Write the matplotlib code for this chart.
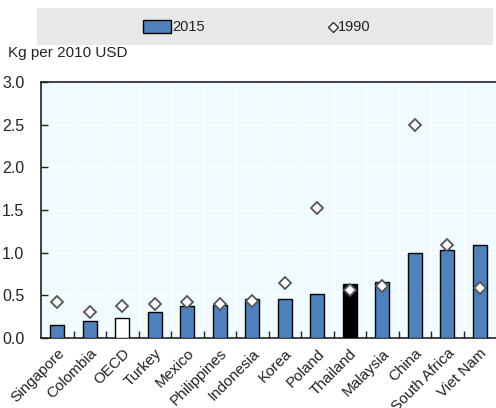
import matplotlib.pyplot as plt
from matplotlib.patches import Rectangle
from matplotlib.lines import Line2D
import numpy as np
plt.close('all')

plt.rcParams['font.family'] = ['Liberation Sans', 'DejaVu Sans']

# Data
countries = ['Singapore', 'Colombia', 'OECD', 'Turkey', 'Mexico', 'Philippines', 'Indonesia',
             'Korea', 'Poland', 'Thailand', 'Malaysia', 'China', 'South Africa', 'Viet Nam']
val_2015 = [0.15, 0.20, 0.24, 0.30, 0.38, 0.39, 0.46, 0.46, 0.51, 0.63, 0.66, 1.00, 1.03, 1.09]
val_1990 = [0.42, 0.30, 0.37, 0.40, 0.42, 0.40, 0.43, 0.64, 1.52, 0.56, 0.61, 2.50, 1.09, 0.59]

blue = '#4F81BD'
colors = [blue] * len(countries)
colors[countries.index('OECD')] = 'white'
colors[countries.index('Thailand')] = 'black'

fig = plt.figure(figsize=(4.96, 4.08), dpi=100)
ax = fig.add_axes([41 / 496, 1 - 338 / 408, 1 - 41 / 496, (338 - 82) / 408])
ax.set_facecolor('#EFFBFF')

x = np.arange(len(countries))
ax.bar(x, val_2015, width=0.42, color=colors, edgecolor='black', linewidth=1.0, zorder=3)
ax.plot(x, val_1990, linestyle='none', marker='D', markersize=6.5,
        markerfacecolor='white', markeredgecolor='#555555', markeredgewidth=1.3, zorder=4)

ax.set_xlim(-0.5, len(countries) - 0.5)
ax.set_ylim(0, 3.0)
ax.set_yticks(np.arange(0, 3.01, 0.5))
ax.set_yticklabels(['%.1f' % v for v in np.arange(0, 3.01, 0.5)])
ax.set_xticks(x)
ax.set_xticklabels(countries, rotation=45, ha='right', rotation_mode='anchor')
ax.set_xticks(x[:-1] + 0.5, minor=True)

ax.tick_params(axis='y', direction='in', length=5, width=1, pad=12, labelsize=11.5, colors='#222222')
ax.tick_params(axis='x', which='major', length=0, pad=6, labelsize=11, colors='#222222')
ax.tick_params(axis='x', which='minor', direction='in', length=5, width=1, color='#222222')

ax.grid(axis='y', color='white', linewidth=1, zorder=0)
ax.grid(axis='x', which='minor', color='white', linewidth=1, zorder=0)
ax.set_axisbelow(True)

for s in ['left', 'bottom', 'top']:
    ax.spines[s].set_color('#222222')
    ax.spines[s].set_linewidth(1.2)
ax.spines['right'].set_visible(False)

# y unit label
fig.text(8 / 496, 1 - 57 / 408, 'Kg per 2010 USD', fontsize=11, color='#222222', va='baseline')

# legend band
fig.patches.append(Rectangle((37 / 496, 1 - 45 / 408), 456 / 496, 37 / 408,
                             transform=fig.transFigure, facecolor='#E8E8E8', edgecolor='none'))
fig.patches.append(Rectangle((143 / 496, 1 - 33 / 408), 28 / 496, 13 / 408,
                             transform=fig.transFigure, facecolor=blue, edgecolor='black', linewidth=1))
fig.text(172 / 496, 1 - 27 / 408, '2015', fontsize=10.5, color='#222222', va='center')
fig.add_artist(Line2D([333 / 496], [1 - 27 / 408], transform=fig.transFigure, marker='D',
                      markersize=5, markerfacecolor='white', markeredgecolor='#333333',
                      markeredgewidth=1, linestyle='none'))
fig.text(338 / 496, 1 - 27 / 408, '1990', fontsize=10.5, color='#222222', va='center')

plt.savefig('out.png', dpi=100)
